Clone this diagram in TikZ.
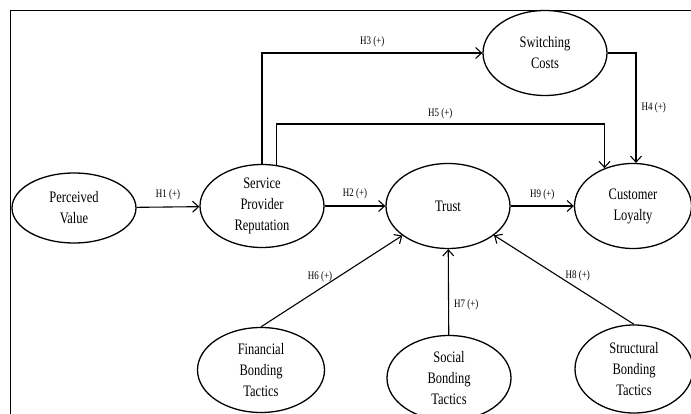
\documentclass[tikz,border=0pt]{standalone}
\usepackage{fontspec}
\setmainfont[FakeStretch=0.78]{Liberation Serif}
\usetikzlibrary{shapes.geometric,arrows.meta}

\begin{document}
\begin{tikzpicture}[x=1pt,y=-1pt,
    latent/.style={draw, ellipse, line width=1.3pt, minimum width=124pt, minimum height=85pt,
      inner sep=0pt, align=center, font=\fontsize{16}{21}\selectfont},
    hyp/.style={font=\fontsize{11.5}{13}\selectfont, inner sep=2pt},
    link/.style={line width=1.1pt, -{Straight Barb[length=6pt,width=11pt]}}]
  \useasboundingbox (0,0) rectangle (691,414);
  \clip (0,0) rectangle (691,414);
  % frame
  \draw[line width=0.9pt] (10,430) -- (10,10) -- (700,10);

  % constructs
  \node[latent, minimum height=70pt] (pv) at (74,208) {Perceived\\Value};
  \node[latent, minimum height=83pt] (spr) at (262,206) {Service\\Provider\\Reputation};
  \node[latent] (trust) at (448,206) {Trust};
  \node[latent, minimum width=117pt] (cl) at (633,206) {Customer\\Loyalty};
  \node[latent] (sc) at (545,53) {Switching\\Costs};
  \node[latent, minimum width=127pt] (fbt) at (261,370) {Financial\\Bonding\\Tactics};
  \node[latent] (sbt) at (449,378) {Social\\Bonding\\Tactics};
  \node[latent, minimum width=118pt, minimum height=88pt] (stbt) at (634,369) {Structural\\Bonding\\Tactics};

  % hypotheses
  \draw[link] (pv) -- node[hyp, above=5pt] {H1 (+)} (spr);
  \draw[link] (spr) -- node[hyp, above=5pt] {H2 (+)} (trust);
  \draw[link] (trust) -- node[hyp, above=4pt] {H9 (+)} (cl);
  \draw[link] (spr.north) |- node[hyp, above=3pt, pos=0.75] {H3 (+)} (sc.west);
  \coordinate (h5) at (0,124);
  \draw[link] (spr.71) |- node[hyp, above=3pt, pos=0.75] {H5 (+)} (h5 -| cl.127) -- (cl.127);
  \draw[link] (sc.east) -| node[hyp, right=3pt, pos=0.75] {H4 (+)} (cl.86);
  \draw[link] (fbt.north) -- node[hyp, left=4pt, pos=0.55] {H6 (+)} (trust);
  \draw[link] (sbt) -- node[hyp, right=3pt, pos=0.35] {H7 (+)} (trust);
  \draw[link] (stbt.north) -- node[hyp, right=6pt, pos=0.55] {H8 (+)} (trust);
\end{tikzpicture}
\end{document}
